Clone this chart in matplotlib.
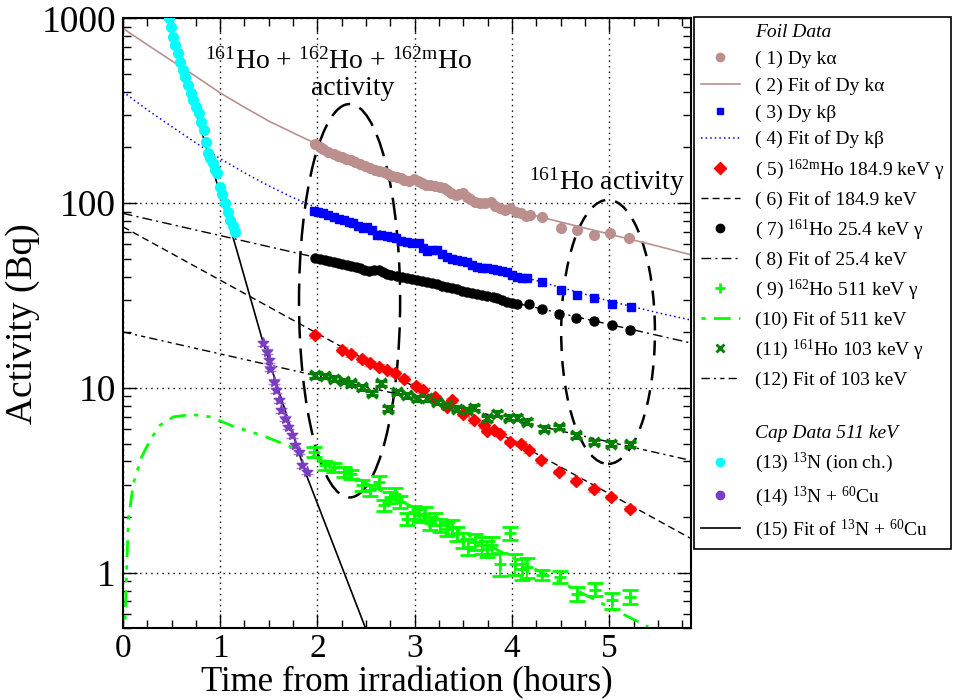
import numpy as np
import matplotlib
matplotlib.use('Agg')
import matplotlib.pyplot as plt
from matplotlib.lines import Line2D
from matplotlib.patches import Ellipse

plt.rcParams['font.family'] = ['Liberation Serif', 'DejaVu Serif']
plt.rcParams['mathtext.fontset'] = 'custom'
plt.rcParams['mathtext.rm'] = 'Liberation Serif'
plt.rcParams['mathtext.it'] = 'Liberation Serif:italic'

# ---- foil data ----
# (1) Dy k-alpha
t_ka = [1.98, 2.03, 2.06, 2.11, 2.17, 2.21, 2.25, 2.29, 2.34, 2.39, 2.44, 2.49, 2.54, 2.59,
        2.63, 2.68, 2.73, 2.77, 2.82, 2.86, 2.89, 2.94, 2.99, 3.03, 3.07, 3.12, 3.16, 3.21,
        3.26, 3.30, 3.33, 3.37, 3.42, 3.46, 3.50, 3.54, 3.57, 3.62, 3.67, 3.72, 3.78, 3.83,
        3.88, 3.93, 3.98, 4.04, 4.09, 4.14, 4.19, 4.31, 4.50, 4.67, 4.84, 5.01, 5.20]
a_ka = [210, 200, 196, 190, 184, 181, 177, 174, 171, 166, 162, 158, 154, 152,
        150, 147, 144, 141, 139, 136, 133, 131, 135, 131, 128, 126, 125, 124,
        122, 120, 118, 114, 110, 112, 113, 108, 105, 102, 99.6, 100, 101, 97,
        94.4, 92, 93.6, 90, 87.9, 85, 86.1, 84.3, 73.0, 71.4, 67.2, 68.6, 64.4]
# (2) fit of Dy k-alpha
fit_ka_t = [0, 0.25, 0.5, 0.75, 1.0, 1.25, 1.5, 1.75, 2.0, 2.5, 3.0, 3.5, 4.0, 4.5, 5.0, 5.5, 5.84]
fit_ka_a = [883, 720, 590, 485, 395, 330, 278, 240, 208, 162, 130, 109, 92, 79, 68, 58.5, 52.5]

# (3) Dy k-beta
t_kb = [1.96, 2.01, 2.06, 2.11, 2.17, 2.22, 2.27, 2.32, 2.37, 2.42, 2.47, 2.51, 2.56, 2.61,
        2.65, 2.71, 2.76, 2.81, 2.86, 2.92, 2.97, 3.04, 3.09, 3.13, 3.18, 3.23, 3.28, 3.33,
        3.38, 3.43, 3.49, 3.54, 3.59, 3.64, 3.69, 3.74, 3.80, 3.85, 3.90, 3.95, 4.00, 4.05,
        4.10, 4.15, 4.31, 4.50, 4.67, 4.84, 5.03, 5.22]
a_kb = [90.5, 89, 87.9, 86, 84.3, 82.5, 80.9, 79, 77.6, 75.5, 73.5, 74.5, 71.4, 67.5,
        67.2, 66, 65.5, 64.4, 62.5, 61.7, 61, 60.5, 57, 55.0, 55.5, 55.7, 53, 51.2,
        50, 49.1, 48.5, 48.1, 46.5, 45.2, 44.6, 44.3, 43.8, 43.4, 43, 42.5, 41, 39.9,
        39.5, 39.1, 37.5, 33.8, 31.8, 30.5, 28.6, 27.5]
# (4) fit of Dy k-beta
fit_kb_t = [0, 0.25, 0.5, 0.75, 1.0, 1.25, 1.5, 1.75, 2.0, 2.5, 3.0, 3.5, 4.0, 4.5, 5.0, 5.5, 5.84]
fit_kb_a = [401, 320, 260, 212, 174, 146, 124, 107, 94, 75, 61, 50, 41.5, 35, 29.5, 25.5, 23.3]

# (5) 162mHo 184.9 keV
t_185 = [1.98, 2.25, 2.35, 2.46, 2.54, 2.63, 2.71, 2.80, 2.89, 3.01, 3.09, 3.21, 3.38, 3.33,
         3.50, 3.61, 3.71, 3.74, 3.81, 3.88, 3.98, 4.09, 4.17, 4.30, 4.48, 4.66, 4.84, 5.02, 5.21]
a_185 = [19.3, 16.1, 15.2, 14.3, 13.6, 13.0, 12.5, 12.0, 11.2, 10.3, 9.71, 8.93, 8.58, 7.88,
         7.26, 6.68, 6.28, 5.85, 5.90, 5.66, 5.10, 5.00, 4.60, 4.06, 3.51, 3.14, 2.82, 2.57, 2.22]
# (6) fit of 184.9 keV
fit_185_t = [0, 5.84]
fit_185_a = [74.5, 1.53]

# (7) 161Ho 25.4 keV
t_254 = [1.98, 2.03, 2.08, 2.12, 2.17, 2.21, 2.25, 2.30, 2.35, 2.40, 2.44, 2.48, 2.53, 2.58,
         2.63, 2.67, 2.71, 2.76, 2.82, 2.87, 2.92, 2.97, 3.02, 3.07, 3.13, 3.18, 3.23, 3.28,
         3.33, 3.38, 3.43, 3.49, 3.54, 3.59, 3.64, 3.69, 3.74, 3.80, 3.85, 3.90, 3.95, 4.00,
         4.05, 4.17, 4.31, 4.48, 4.66, 4.84, 5.03, 5.21]
a_254 = [50.2, 49.6, 49.1, 48.6, 48.1, 47.6, 47.1, 46.3, 45.7, 45.1, 44.6, 43.5, 42.8, 43.3,
         43.7, 42.5, 41.6, 41.0, 40.4, 39.9, 39.4, 38.8, 38.3, 37.7, 37.2, 36.8, 36.3, 35.7,
         35.2, 34.7, 34.2, 33.6, 33.1, 32.7, 32.4, 31.9, 31.4, 30.9, 30.5, 29.8, 29.2, 28.9,
         28.6, 28.3, 26.7, 25.1, 23.8, 23.0, 21.8, 20.5]
# (8) fit of 25.4 keV
fit_254_t = [0, 5.84]
fit_254_a = [88, 17.5]

# (9) 162Ho 511 keV, with relative errors
t_511 = [1.96, 2.08, 2.17, 2.27, 2.35, 2.46, 2.54, 2.63, 2.68, 2.75, 2.80, 2.85, 2.92, 2.99,
         3.04, 3.11, 3.16, 3.21, 3.26, 3.33, 3.38, 3.43, 3.50, 3.55, 3.62, 3.69, 3.74, 3.79,
         3.98, 3.88, 4.03, 4.10, 4.15, 4.31, 4.49, 4.67, 4.85, 5.03, 5.21]
a_511 = [4.50, 3.81, 3.71, 3.51, 3.41, 2.97, 2.79, 3.10, 2.32, 2.57, 2.68, 2.42, 1.96, 2.13,
         2.05, 2.09, 1.85, 1.96, 1.81, 1.73, 1.77, 1.63, 1.50, 1.38, 1.47, 1.41, 1.35, 1.41,
         1.63, 1.12, 1.12, 1.05, 1.07, 0.97, 0.95, 0.77, 0.81, 0.71, 0.74]
e_511 = [0.06, 0.06, 0.06, 0.06, 0.06, 0.07, 0.07, 0.07, 0.07, 0.07, 0.07, 0.07, 0.08, 0.08,
         0.08, 0.08, 0.08, 0.08, 0.08, 0.09, 0.09, 0.09, 0.09, 0.10, 0.10, 0.10, 0.10, 0.10,
         0.08, 0.14, 0.13, 0.13, 0.12, 0.06, 0.07, 0.09, 0.08, 0.10, 0.09]
# (10) fit of 511 keV
fit_511_t = [0.012, 0.02, 0.056, 0.107, 0.193, 0.279, 0.382, 0.519, 0.708, 0.896, 1.136,
             1.444, 1.685, 2.0, 2.5, 3.0, 3.5, 4.0, 4.5, 5.0, 5.4]
fit_511_a = [0.35, 0.51, 1.92, 3.03, 4.23, 5.21, 6.28, 6.97, 7.18, 6.97, 6.2,
             5.5, 4.90, 4.15, 3.05, 2.24, 1.65, 1.21, 0.89, 0.65, 0.51]

# (11) 161Ho 103 keV
t_103 = [1.98, 2.08, 2.17, 2.27, 2.35, 2.46, 2.56, 2.65, 2.73, 2.82, 2.92, 3.02, 3.13, 3.23,
         3.33, 3.43, 3.54, 3.61, 3.74, 3.85, 3.97, 4.05, 4.15, 4.33, 4.48, 4.66, 4.84, 5.02, 5.21]
a_103 = [11.7, 11.6, 11.2, 10.9, 10.6, 10.1, 9.40, 10.6, 7.72, 9.51, 9.14, 8.77, 8.77, 8.40,
         8.06, 7.73, 7.57, 7.83, 6.84, 7.26, 6.91, 6.91, 6.55, 6.03, 6.15, 5.55, 5.10, 5.00, 4.95]
# (12) fit of 103 keV
fit_103_t = [0, 5.84]
fit_103_a = [20.1, 4.05]

# ---- cap data 511 keV ----
# (13) 13N ion chamber
t_n13 = [0.47, 0.49, 0.52, 0.54, 0.57, 0.59, 0.62, 0.64, 0.67, 0.70, 0.72, 0.75, 0.78, 0.80,
         0.83, 0.85, 0.88, 0.90, 0.93, 0.95, 0.97, 1.00, 1.02, 1.05, 1.08, 1.10, 1.13, 1.15]
a_n13 = [1000, 900, 795, 720, 646, 580, 525, 480, 435, 395, 361, 330, 306, 275,
         249, 215, 186, 175, 164, 152, 145, 122, 112, 99.6, 90, 80.9, 75, 70]
# (14) 13N + 60Cu
t_cu = [1.44, 1.48, 1.50, 1.51, 1.55, 1.57, 1.60, 1.63, 1.67, 1.70, 1.74, 1.77, 1.81, 1.84, 1.89]
a_cu = [17.4, 15.7, 14.1, 12.7, 10.8, 9.72, 8.58, 7.57, 6.82, 6.15, 5.55, 4.90, 4.50, 3.81, 3.51]
# (15) fit of 13N + 60Cu
fit_cu_t = [0.44, 1.171, 1.444, 1.874, 2.49, 2.6]
fit_cu_a = [1110, 55.6, 17.4, 3.51, 0.508, 0.36]

x_ticks = [0, 1, 2, 3, 4, 5]
y_ticks = [1, 10, 100, 1000]

fig = plt.figure(figsize=(9.6, 7), dpi=100)
ax = fig.add_axes([0.128, 0.1024, 0.5918, 0.8714])

rb = '#bc8f8f'
lime = '#00ff00'
dgreen = '#008000'
purple = '#7a3cc0'

# fits first so the points sit on top
ax.plot(fit_ka_t, fit_ka_a, color=rb, lw=1.2)
ax.plot(fit_kb_t, fit_kb_a, color='blue', lw=1.1, ls=(0, (1, 2)))
ax.plot(fit_185_t, fit_185_a, color='black', lw=1.0, ls=(0, (5, 3)))
ax.plot(fit_254_t, fit_254_a, color='black', lw=1.0, ls=(0, (7, 3, 1.5, 3)))
ax.plot(fit_511_t, fit_511_a, color=lime, lw=2.0, ls=(0, (6, 3, 1.5, 3, 1.5, 3)))
ax.plot(fit_103_t, fit_103_a, color='black', lw=1.0, ls=(0, (6, 3, 1.5, 3, 3, 3)))
ax.plot(fit_cu_t, fit_cu_a, color='black', lw=1.2)

ax.errorbar(t_ka, a_ka, yerr=np.array(a_ka) * 0.02, fmt='o', ms=7, color=rb,
            ecolor='#d8b8b8', capsize=3, elinewidth=1)
ax.errorbar(t_kb, a_kb, yerr=np.array(a_kb) * 0.02, fmt='s', ms=6, color='blue',
            ecolor='#8080ff', capsize=3, elinewidth=1)
ax.errorbar(t_254, a_254, yerr=np.array(a_254) * 0.015, fmt='o', ms=6.5, color='black',
            ecolor='#606060', capsize=3, elinewidth=1)
ax.errorbar(t_185, a_185, yerr=np.array(a_185) * 0.03, fmt='D', ms=6.5, color='red',
            ecolor='#ff8080', capsize=4, elinewidth=1)
ax.errorbar(t_103, a_103, yerr=np.array(a_103) * 0.03, fmt='x', ms=7, mew=2.2, color=dgreen,
            ecolor=dgreen, capsize=4, elinewidth=1)
ax.errorbar(t_511, a_511, yerr=np.array(a_511) * np.array(e_511), fmt='+', ms=9, mew=2,
            color=lime, ecolor=lime, capsize=6, elinewidth=1.3)
ax.plot(t_n13, a_n13, 'o', ms=7, color='#00ffff', zorder=3)
ax.errorbar(t_cu, a_cu, yerr=np.array(a_cu) * 0.03, fmt='*', ms=8, color=purple,
            ecolor='#a880d8', capsize=4, elinewidth=1)

# dashed ellipses marking the two regions
ax.add_patch(Ellipse((0.399, 0.537), 0.178, 0.645, transform=ax.transAxes, fill=False,
                     ec='black', lw=1.8, ls=(0, (9, 4))))
ax.add_patch(Ellipse((0.854, 0.486), 0.165, 0.433, transform=ax.transAxes, fill=False,
                     ec='black', lw=1.8, ls=(0, (6, 4))))

ax.text(0.145, 0.918, r'$^{161}$Ho + $^{162}$Ho + $^{\mathrm{162m}}$Ho', transform=ax.transAxes,
        fontsize=20, ha='left', va='baseline')
ax.text(0.405, 0.875, 'activity', transform=ax.transAxes, fontsize=20, ha='center', va='baseline')
ax.text(0.714, 0.720, r'$^{161}$Ho activity', transform=ax.transAxes, fontsize=20,
        ha='left', va='baseline')

ax.set_yscale('log')
ax.set_xlim(0, 5.84)
ax.set_ylim(0.5, 1000)
ax.set_xticks(x_ticks)
ax.set_xticklabels([str(v) for v in x_ticks])
ax.set_yticks(y_ticks)
ax.set_yticklabels([str(v) for v in y_ticks])
ax.set_xticks(np.arange(0, 5.84, 0.25), minor=True)
ax.tick_params(which='both', direction='in', top=True, right=True, labelsize=24)
ax.tick_params(axis='y', labelsize=27, pad=5)
ax.tick_params(which='major', length=10, width=1)
ax.tick_params(which='minor', length=6, width=1)
ax.grid(True, which='major', ls=(0, (1, 3)), color='black', lw=1)
for s in ax.spines.values():
    s.set_linewidth(1.5)

ax.set_xlabel('Time from irradiation (hours)', fontsize=25, labelpad=2)
ax.set_ylabel('Activity (Bq)', fontsize=27, labelpad=1)

# legend built from proxy handles
blank = Line2D([], [], ls='none')
handles = [
    blank,
    Line2D([], [], ls='none', marker='o', ms=6, color=rb),
    Line2D([], [], color=rb, lw=1.2),
    Line2D([], [], ls='none', marker='s', ms=5, color='blue'),
    Line2D([], [], color='blue', lw=1.1, ls=(0, (1, 2))),
    Line2D([], [], ls='none', marker='D', ms=6, color='red'),
    Line2D([], [], color='black', lw=1.0, ls=(0, (5, 3))),
    Line2D([], [], ls='none', marker='o', ms=6, color='black'),
    Line2D([], [], color='black', lw=1.0, ls=(0, (7, 3, 1.5, 3))),
    Line2D([], [], ls='none', marker='+', ms=7, mew=2, color=lime),
    Line2D([], [], color=lime, lw=2.0, ls=(0, (1.5, 3, 6, 3))),
    Line2D([], [], ls='none', marker='x', ms=6, mew=2, color=dgreen),
    Line2D([], [], color='black', lw=1.0, ls=(0, (6, 3, 1.5, 3, 3, 3))),
    blank,
    blank,
    Line2D([], [], ls='none', marker='o', ms=6, color='#00ffff'),
    Line2D([], [], ls='none', marker='o', ms=6, color=purple),
    Line2D([], [], color='black', lw=1.2),
]
labels = [
    'Foil Data',
    '( 1) Dy kα',
    '( 2) Fit of Dy kα',
    '( 3) Dy kβ',
    '( 4) Fit of Dy kβ',
    r'( 5) $^{\mathrm{162m}}$Ho 184.9 keV γ',
    '( 6) Fit of 184.9 keV',
    r'( 7) $^{161}$Ho 25.4 keV γ',
    '( 8) Fit of 25.4 keV',
    r'( 9) $^{162}$Ho 511 keV γ',
    '(10) Fit of 511 keV',
    r'(11) $^{161}$Ho 103 keV γ',
    '(12) Fit of 103 keV',
    ' ',
    'Cap Data 511 keV',
    r'(13) $^{13}$N (ion ch.)',
    r'(14) $^{13}$N + $^{60}$Cu',
    r'(15) Fit of $^{13}$N + $^{60}$Cu',
]
leg = ax.legend(handles, labels, loc='upper left', bbox_to_anchor=(694 / 960, 1 - 17 / 700),
                bbox_transform=fig.transFigure, borderaxespad=0, fontsize=14,
                handlelength=2.0, handletextpad=0.8, labelspacing=0.46, borderpad=0.35,
                fancybox=False, framealpha=1, edgecolor='black')
leg.get_frame().set_linewidth(1.2)
leg.get_texts()[0].set_fontstyle('italic')
leg.get_texts()[14].set_fontstyle('italic')

fig.savefig('out.png', dpi=100)
